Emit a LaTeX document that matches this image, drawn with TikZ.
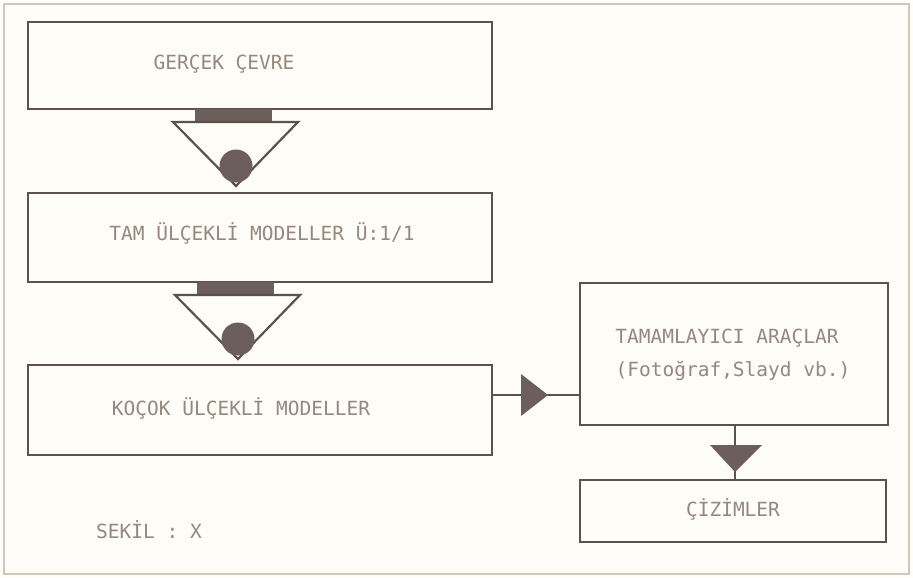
\documentclass[tikz,border=0pt]{standalone}
\usepackage{fontspec}
\setmonofont{DejaVu Sans Mono}
\definecolor{paper}{RGB}{253,252,246}
\definecolor{frame}{RGB}{205,200,188}
\definecolor{ink}{RGB}{92,82,74}
\definecolor{txt}{RGB}{150,136,126}
\definecolor{fillc}{RGB}{108,94,90}
\begin{document}
\begin{tikzpicture}[x=1pt,y=-1pt,
  box/.style={draw=ink, line width=2.4pt, inner sep=0pt},
  lbl/.style={text=txt, font=\ttfamily\fontsize{19.5}{23}\selectfont, inner sep=0pt, anchor=base},
  conn/.style={draw=ink, line width=2.2pt},
  pics/valve/.style={code={
    \fill[fillc] (-41,0) rectangle (36,13);
    \draw[ink, line width=2.2pt, line join=miter] (-63,13) -- (62,13) -- (0,77) -- cycle;
    \fill[fillc] (0,57) circle (16.5);
  }}]
\fill[paper] (0,0) rectangle (913,578);
\draw[frame, line width=1.4pt] (4,4) rectangle (909,574);
\useasboundingbox (0,0) rectangle (913,578);

% boxes
\node[box, minimum width=464pt, minimum height=87pt] (b1) at (260,65.5) {};
\node[box, minimum width=464pt, minimum height=89pt] (b2) at (260,237.5) {};
\node[box, minimum width=464pt, minimum height=90pt] (b3) at (260,410) {};
\node[box, minimum width=308pt, minimum height=142pt] (b4) at (734,354) {};
\node[box, minimum width=306pt, minimum height=62pt] (b5) at (733,511) {};

% texts
\node[lbl] (t1) at (224,70) {GERÇEK ÇEVRE};
\node[lbl] (t2) at (262,240) {TAM ÜLÇEKLİ MODELLER Ü:1/1};
\node[lbl] (t3) at (241,415) {KOÇOK ÜLÇEKLİ MODELLER};
\node[lbl] (t4) at (727,343) {TAMAMLAYICI ARAÇLAR};
\node[lbl] (t5) at (733,376) {(Fotoğraf,Slayd vb.)};
\node[lbl] (t6) at (733,516) {ÇİZİMLER};
\node[lbl] (t7) at (149,538) {SEKİL : X};

% valve connectors between stacked boxes
\coordinate (v1) at (236,109);
\coordinate (v2) at (238,282);
\pic at (v1) {valve};
\pic at (v2) {valve};

% right arrow b3 -> b4
\draw[conn] (b3.east |- 0,395) -- (b4.west |- 0,395);
\fill[fillc] (521,374) -- (548,395) -- (521,416) -- cycle;

% down arrow b4 -> b5
\draw[conn] (b4.south -| 735,0) -- (b5.north -| 735,0);
\fill[fillc] (710,445) -- (762,445) -- (735,472) -- cycle;
\end{tikzpicture}
\end{document}
